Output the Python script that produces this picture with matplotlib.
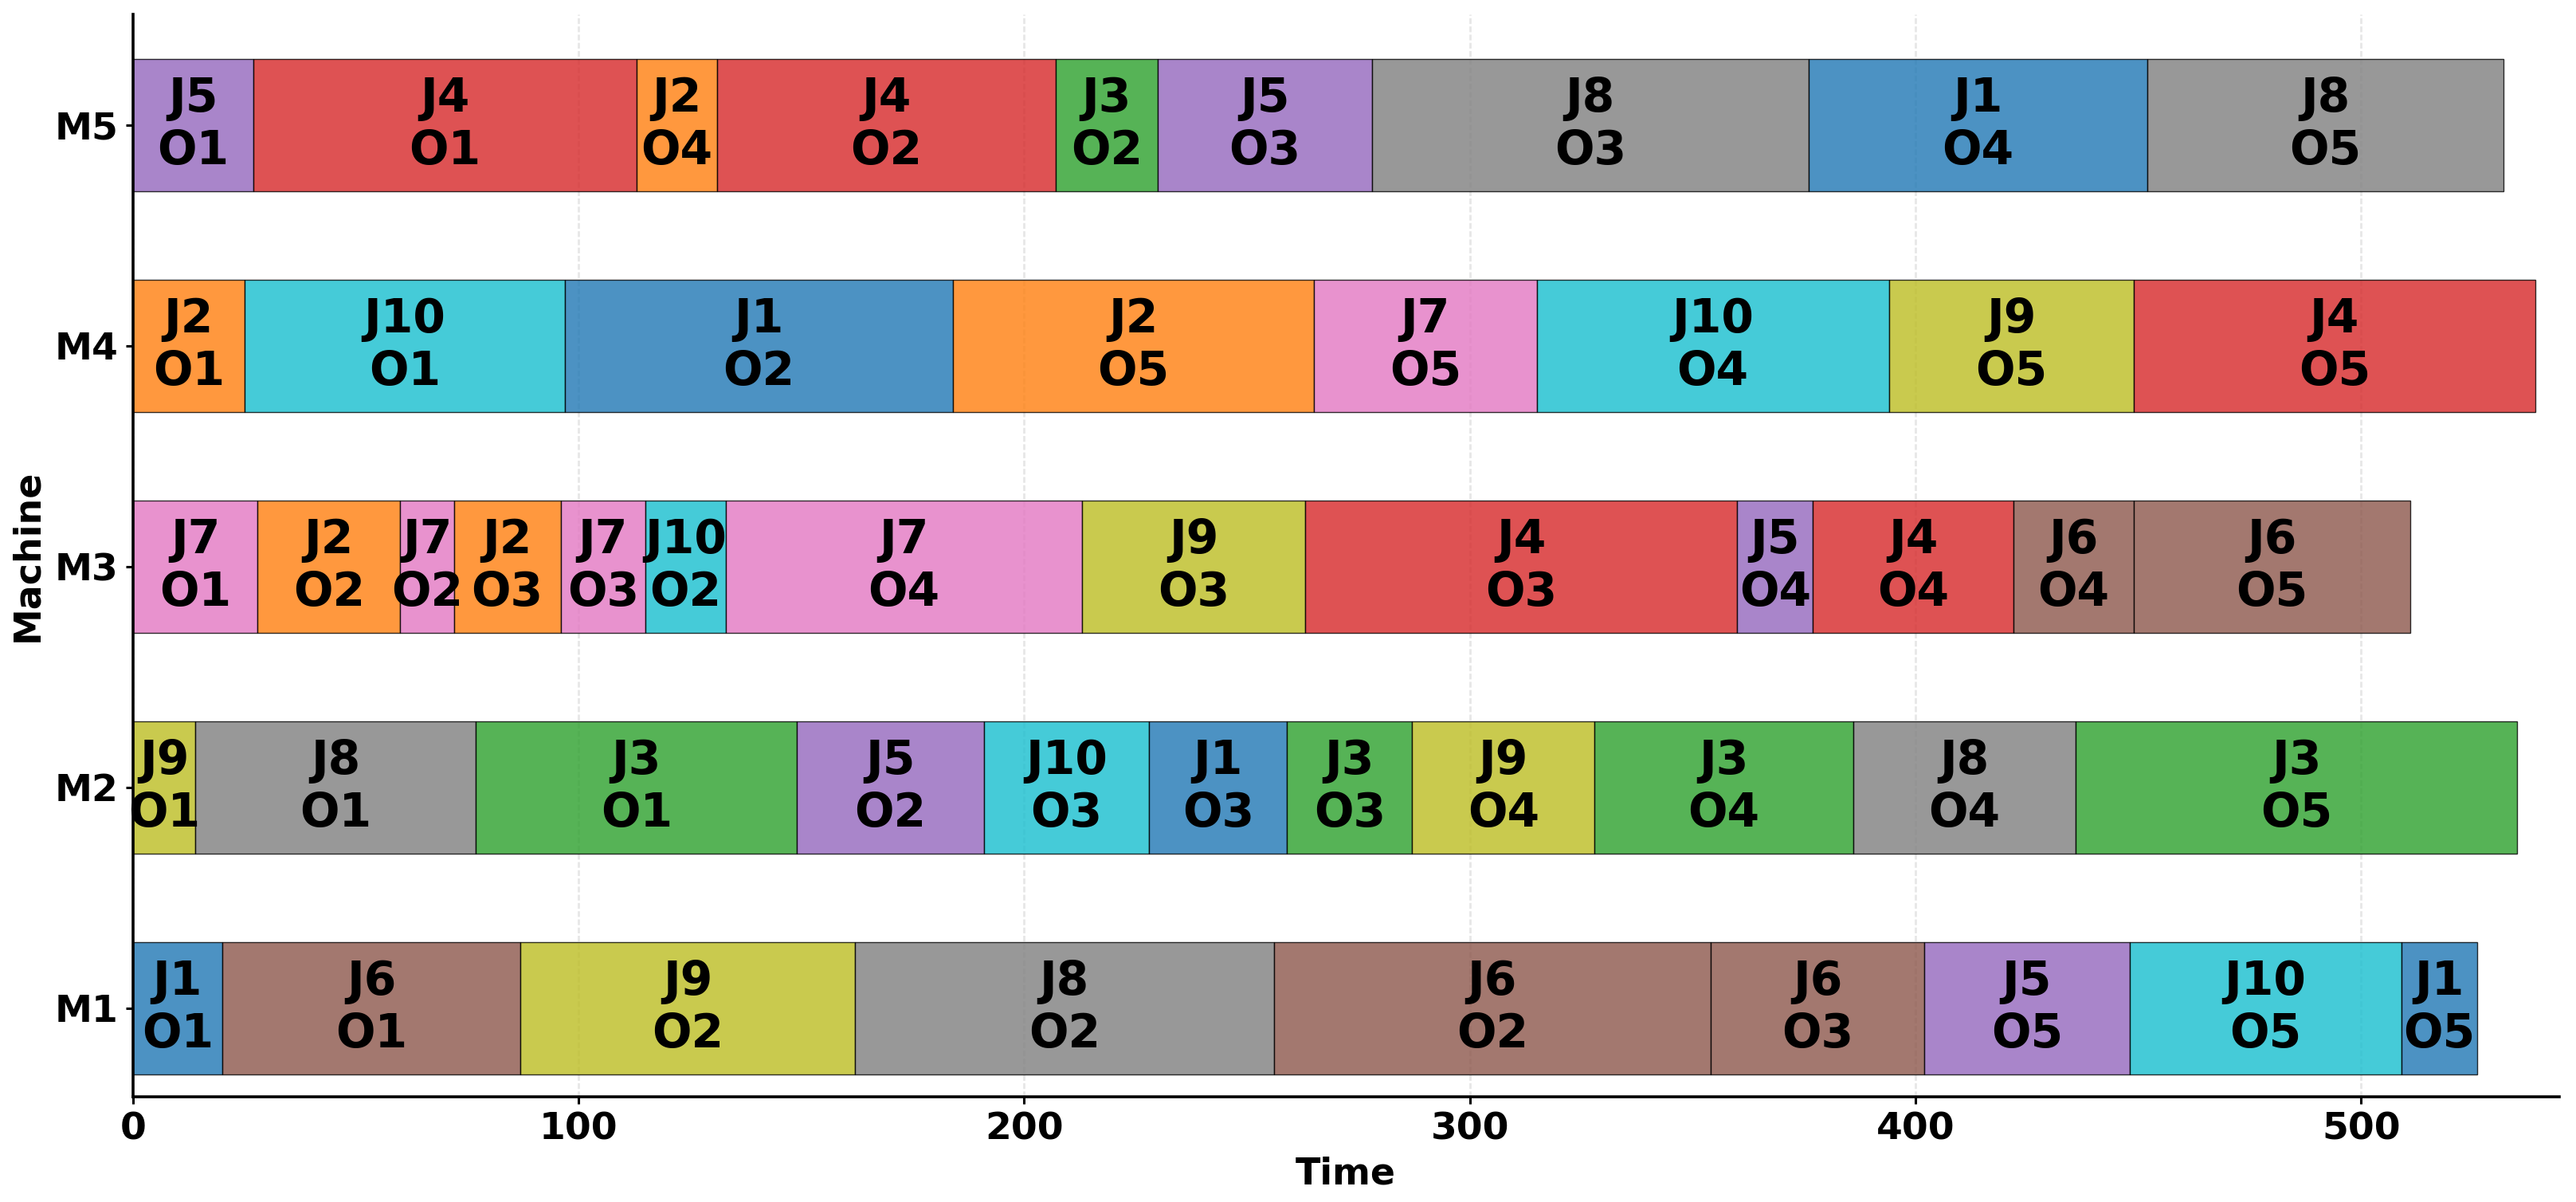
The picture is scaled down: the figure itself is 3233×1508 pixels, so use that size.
import matplotlib.pyplot as plt

# schedule per machine: job, operation, start, duration
m1_jobs = [1, 6, 9, 8, 6, 6, 5, 10, 1]
m1_ops = [1, 1, 2, 2, 2, 3, 5, 5, 5]
m1_start = [0, 20, 87, 162, 256, 354, 402, 448, 509]
m1_dur = [20, 67, 75, 94, 98, 48, 46, 61, 17]

m2_jobs = [9, 8, 3, 5, 10, 1, 3, 9, 3, 8, 3]
m2_ops = [1, 1, 1, 2, 3, 3, 3, 4, 4, 4, 5]
m2_start = [0, 14, 77, 149, 191, 228, 259, 287, 328, 386, 436]
m2_dur = [14, 63, 72, 42, 37, 31, 28, 41, 58, 50, 99]

m3_jobs = [7, 2, 7, 2, 7, 10, 7, 9, 4, 5, 4, 6, 6]
m3_ops = [1, 2, 2, 3, 3, 2, 4, 3, 3, 4, 4, 4, 5]
m3_start = [0, 28, 60, 72, 96, 115, 133, 213, 263, 360, 377, 422, 449]
m3_dur = [28, 32, 12, 24, 19, 18, 80, 50, 97, 17, 45, 27, 62]

m4_jobs = [2, 10, 1, 2, 7, 10, 9, 4]
m4_ops = [1, 1, 2, 5, 5, 4, 5, 5]
m4_start = [0, 25, 97, 184, 265, 315, 394, 449]
m4_dur = [25, 72, 87, 81, 50, 79, 55, 90]

m5_jobs = [5, 4, 2, 4, 3, 5, 8, 1, 8]
m5_ops = [1, 1, 4, 2, 2, 3, 3, 4, 5]
m5_start = [0, 27, 113, 131, 207, 230, 278, 376, 452]
m5_dur = [27, 86, 18, 76, 23, 48, 98, 76, 80]

machines = ['M1', 'M2', 'M3', 'M4', 'M5']
schedule = [
    (m1_jobs, m1_ops, m1_start, m1_dur),
    (m2_jobs, m2_ops, m2_start, m2_dur),
    (m3_jobs, m3_ops, m3_start, m3_dur),
    (m4_jobs, m4_ops, m4_start, m4_dur),
    (m5_jobs, m5_ops, m5_start, m5_dur),
]

colors = plt.get_cmap('tab10').colors

fig = plt.figure(figsize=(3233 / 200, 1508 / 200), dpi=200)
ax = fig.add_axes([0.0516, 0.0877, 0.9418, 0.9002])

makespan = 0
for m, (jobs, ops, starts, durs) in enumerate(schedule):
    for j, o, s, d in zip(jobs, ops, starts, durs):
        ax.barh(m, d, left=s, height=0.6, color=colors[j - 1],
                edgecolor='black', linewidth=0.5, alpha=0.8)
        ax.text(s + d / 2, m, f'J{j}\nO{o}', ha='center', va='center',
                fontsize=21, fontweight='bold', color='black')
        makespan = max(makespan, s + d)

ax.set_xlim(0, makespan * 1.01)
ax.set_ylim(-0.4, 4.5)
ax.set_yticks(range(len(machines)))
ax.set_yticklabels(machines)
ax.set_xlabel('Time', fontsize=16.5, fontweight='bold')
ax.set_ylabel('Machine', fontsize=16.5, fontweight='bold')
for lab in ax.get_xticklabels() + ax.get_yticklabels():
    lab.set_fontsize(17)
    lab.set_fontweight('bold')
ax.tick_params(width=1.1, length=3.2)

ax.set_axisbelow(True)
ax.grid(axis='x', linestyle=(0, (2.6, 1.1)), linewidth=1.0,
        color='#b0b0b0', alpha=0.3)

ax.spines['top'].set_visible(False)
ax.spines['right'].set_visible(False)
ax.spines['left'].set_linewidth(1.3)
ax.spines['bottom'].set_linewidth(1.3)

fig.savefig('out.png', dpi=200)
